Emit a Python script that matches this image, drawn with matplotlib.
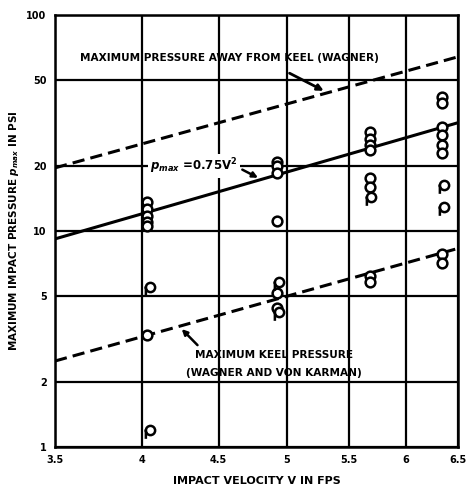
import numpy as np
import matplotlib
matplotlib.use("Agg")
import matplotlib.pyplot as plt
from matplotlib.path import Path
from matplotlib.ticker import FixedLocator, FixedFormatter, NullLocator

# tick values
x_ticks = [3.5, 4, 4.5, 5, 5.5, 6, 6.5]
x_labels = ["3.5", "4", "4.5", "5", "5.5", "6", "6.5"]
y_ticks = [1, 2, 5, 10, 20, 50, 100]
y_labels = ["1", "2", "5", "10", "20", "50", "100"]

# reference lines (end points)
line_v = [3.5, 6.5]
away_keel = [19.6, 64.0]
fit_line = [9.19, 31.7]
keel = [2.5, 8.3]

# test points, open circles
circ_v = [4.03] * 6 + [4.92] * 6 + [5.68] * 8 + [6.34] * 8
circ_p = [13.6, 12.6, 11.7, 11.0, 10.6, 3.3,
          20.9, 20.1, 18.6, 11.1, 5.15, 4.4,
          28.7, 26.8, 25.0, 23.7, 17.6, 16.0, 6.2, 5.8,
          41.7, 39.0, 30.3, 27.8, 25.1, 23.0, 7.8, 7.1]

# flagged points
flag_v = [4.05, 4.05, 4.94, 4.94, 5.69, 6.36, 6.36]
flag_p = [5.5, 1.2, 5.8, 4.2, 14.4, 16.3, 12.9]


def flag_marker():
    c = Path.unit_circle()
    verts = list(c.vertices) + [(-1.0, 0.2), (-1.0, -1.8)]
    codes = list(c.codes) + [Path.MOVETO, Path.LINETO]
    return Path(verts, codes)


plt.rcParams['font.family'] = ['DejaVu Sans']
plt.rcParams['font.weight'] = 'bold'

fig = plt.figure(figsize=(4.7, 4.92), dpi=100)
ax = fig.add_axes([0.117, 0.0915, 0.857, 0.878])
ax.set_xscale('log')
ax.set_yscale('log')
ax.set_xlim(3.5, 6.5)
ax.set_ylim(1, 100)

ax.xaxis.set_major_locator(FixedLocator(x_ticks))
ax.xaxis.set_major_formatter(FixedFormatter(x_labels))
ax.xaxis.set_minor_locator(NullLocator())
ax.yaxis.set_major_locator(FixedLocator(y_ticks))
ax.yaxis.set_major_formatter(FixedFormatter(y_labels))
ax.yaxis.set_minor_locator(NullLocator())
ax.tick_params(length=0, labelsize=7, pad=6)
for lab in ax.get_xticklabels() + ax.get_yticklabels():
    lab.set_fontweight('bold')

ax.grid(True, color='black', lw=1.6)
for s in ax.spines.values():
    s.set_linewidth(1.8)

ax.plot(line_v, away_keel, color='black', lw=2.2, ls=(0, (4, 2)))
ax.plot(line_v, fit_line, color='black', lw=2.2)
ax.plot(line_v, keel, color='black', lw=2.2, ls=(0, (4, 2)))

ax.plot(circ_v, circ_p, ls='none', marker='o', ms=7, mfc='white',
        mec='black', mew=1.8, zorder=5, clip_on=False)
ax.plot(flag_v, flag_p, ls='none', marker=flag_marker(), ms=12, mfc='white',
        mec='black', mew=1.8, zorder=5, clip_on=False)

tk = dict(fontsize=7.6, fontweight='bold', color='black')
ax.text(0.063, 0.90, "MAXIMUM PRESSURE AWAY FROM KEEL (WAGNER)",
        transform=ax.transAxes, va='center', ha='left', **tk)
ax.annotate("", xy=(5.31, 44), xytext=(5.0, 54.5),
            arrowprops=dict(arrowstyle='-|>', color='black', lw=2, mutation_scale=9))

ax.text(4.05, 20, r"$p_{max}$ =0.75V$^2$", va='center', ha='left', fontsize=8.5,
        fontweight='bold', bbox=dict(fc='white', ec='none', pad=1.5), zorder=4)
ax.annotate("", xy=(4.80, 17.4), xytext=(4.65, 19.5),
            arrowprops=dict(arrowstyle='-|>', color='black', lw=1.8, mutation_scale=8))

ax.text(4.9, 2.67, "MAXIMUM KEEL PRESSURE", ha='center', va='center', **tk)
ax.text(4.9, 2.2, "(WAGNER AND VON KARMAN)", ha='center', va='center', **tk)
ax.annotate("", xy=(4.24, 3.59), xytext=(4.37, 2.9),
            arrowprops=dict(arrowstyle='-|>', color='black', lw=1.8, mutation_scale=8))

ax.set_xlabel("IMPACT VELOCITY V IN FPS", fontsize=8, fontweight='bold', labelpad=8)
ax.set_ylabel(r"MAXIMUM IMPACT PRESSURE $p_{max}$ IN PSI", fontsize=7.5,
              fontweight='bold', labelpad=4)

fig.savefig("out.png", dpi=100)
